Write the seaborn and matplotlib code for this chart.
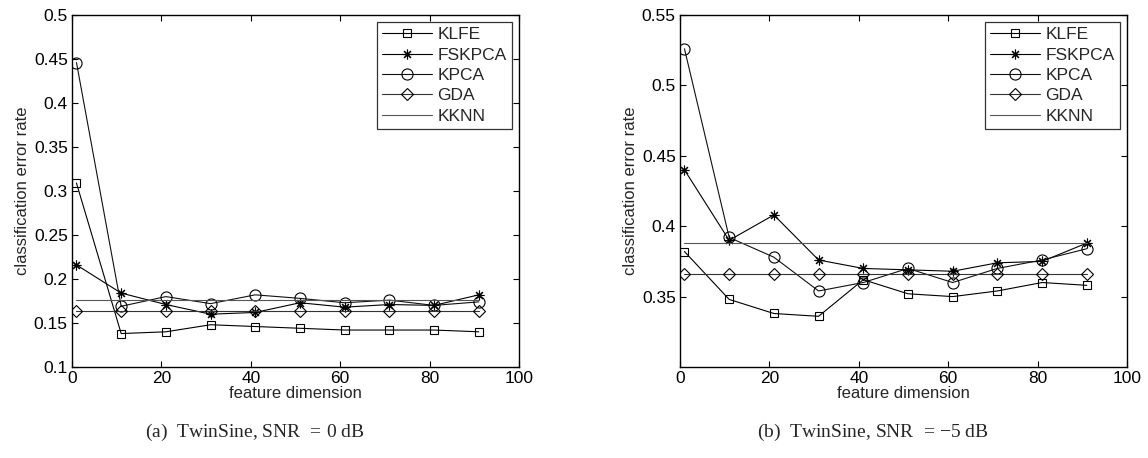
import numpy as np
import pandas as pd
import matplotlib
matplotlib.use("Agg")
import matplotlib.pyplot as plt
import seaborn as sns

sns.set_theme(style="white")
plt.rcParams['font.family'] = ['Liberation Sans', 'DejaVu Sans']
plt.rcParams['mathtext.fontset'] = 'custom'
plt.rcParams['mathtext.rm'] = 'Liberation Serif'
plt.rcParams['mathtext.it'] = 'Liberation Serif:italic'

dims = [1, 11, 21, 31, 41, 51, 61, 71, 81, 91]

# (a) SNR = 0 dB
klfe_a   = [0.309, 0.138, 0.140, 0.148, 0.146, 0.144, 0.142, 0.142, 0.142, 0.140]
fskpca_a = [0.216, 0.184, 0.171, 0.160, 0.162, 0.173, 0.168, 0.171, 0.170, 0.182]
kpca_a   = [0.446, 0.169, 0.180, 0.172, 0.182, 0.178, 0.173, 0.176, 0.170, 0.174]
gda_a    = [0.164] * 10
kknn_a   = [0.176] * 10

# (b) SNR = -5 dB
klfe_b   = [0.382, 0.348, 0.338, 0.336, 0.362, 0.352, 0.350, 0.354, 0.360, 0.358]
fskpca_b = [0.440, 0.390, 0.408, 0.376, 0.370, 0.369, 0.368, 0.374, 0.375, 0.388]
kpca_b   = [0.526, 0.392, 0.378, 0.354, 0.360, 0.370, 0.360, 0.370, 0.376, 0.384]
gda_b    = [0.366] * 10
kknn_b   = [0.388] * 10

series_names = ["KLFE", "FSKPCA", "KPCA", "GDA", "KKNN"]
captions = [r"(a)  TwinSine, SNR $\,=\,0$ dB", r"(b)  TwinSine, SNR $\,=\,\mathrm{-}5$ dB"]

styles = {
    "KLFE":   dict(marker="s", markersize=6.2),
    "FSKPCA": dict(marker=(8, 2, 0), markersize=7),
    "KPCA":   dict(marker="o", markersize=8),
    "GDA":    dict(marker="D", markersize=6.5),
    "KKNN":   dict(marker=None),
}
colors = {"KLFE": "black", "FSKPCA": "black", "KPCA": "#111111", "GDA": "#333333", "KKNN": "#555555"}

fig = plt.figure(figsize=(11.48, 4.58), dpi=100)
W, H = 1148, 458
axes_px = [(72, 15, 519, 367), (680, 15, 1127, 367)]
data = [
    [klfe_a, fskpca_a, kpca_a, gda_a, kknn_a],
    [klfe_b, fskpca_b, kpca_b, gda_b, kknn_b],
]
ylims = [(0.1, 0.5), (0.3, 0.55)]
yticks = [[0.1, 0.15, 0.2, 0.25, 0.3, 0.35, 0.4, 0.45, 0.5],
          [0.35, 0.4, 0.45, 0.5, 0.55]]
ytlabels = [["0.1", "0.15", "0.2", "0.25", "0.3", "0.35", "0.4", "0.45", "0.5"],
            ["0.35", "0.4", "0.45", "0.5", "0.55"]]
cap_x = [255, 873]

for i, (x0, y0, x1, y1) in enumerate(axes_px):
    ax = fig.add_axes([x0 / W, 1 - y1 / H, (x1 - x0) / W, (y1 - y0) / H])
    for name, vals in zip(series_names, data[i]):
        st = styles[name]
        kw = dict(color=colors[name], linewidth=0.8)
        if st["marker"] is not None:
            kw.update(marker=st["marker"], markersize=st["markersize"],
                      markerfacecolor="none", markeredgecolor="black",
                      markeredgewidth=0.8)
        sns.lineplot(x=dims, y=vals, ax=ax, label=name, **kw)
    ax.set_xlim(0, 100)
    ax.set_ylim(*ylims[i])
    ax.set_xticks([0, 20, 40, 60, 80, 100])
    ax.set_xticklabels(["0", "20", "40", "60", "80", "100"])
    ax.set_yticks(yticks[i])
    ax.set_yticklabels(ytlabels[i])
    ax.tick_params(axis="both", direction="in", length=4, width=0.8,
                   labelsize=12.5, top=True, right=True, bottom=True, left=True,
                   pad=3, colors="black")
    for s in ax.spines.values():
        s.set_color("black")
        s.set_linewidth(1.0)
    ax.set_xlabel("feature dimension", fontsize=12, labelpad=0)
    ax.set_ylabel("classification error rate", fontsize=12, labelpad=3)
    leg = ax.legend(loc="upper right", fontsize=12.5, frameon=True, fancybox=False,
                    edgecolor="black", handlelength=2.9, handletextpad=0.3,
                    labelspacing=0.3, borderpad=0.3, borderaxespad=0.4)
    leg.get_frame().set_linewidth(0.9)
    fig.text(cap_x[i] / W, 1 - 432 / H, captions[i], ha="center", va="center",
             fontsize=14, family="Liberation Serif")

fig.savefig("out.png", dpi=100)
